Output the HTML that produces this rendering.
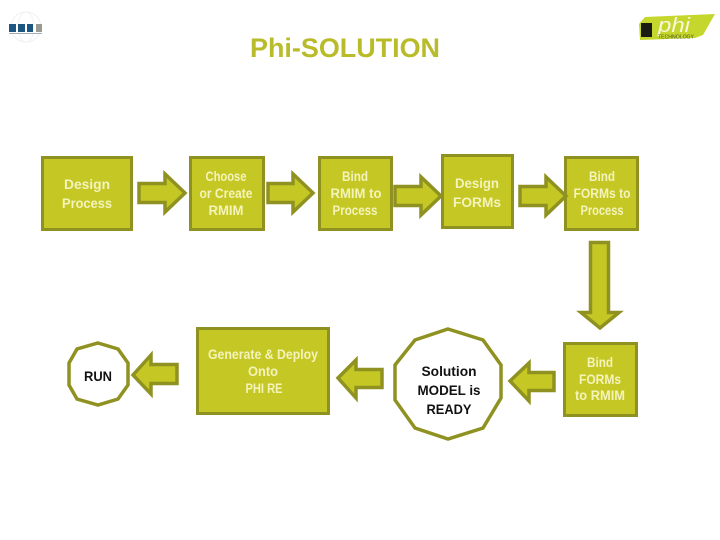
<!DOCTYPE html>
<html><head><meta charset="utf-8"><style>
html,body{margin:0;padding:0;background:#fff}
svg{display:block}
text{font-family:"Liberation Sans",sans-serif;text-anchor:middle;font-weight:bold}
.w{fill:#f4f3bc;font-size:13.5px}
.k{fill:#111;font-size:14px}
.s{fill:#c5c824;stroke:#8f9221;stroke-width:3.5}
.b{fill:#c5c824;stroke:#8f9221;stroke-width:3}
</style></head><body>
<svg width="720" height="540" viewBox="0 0 720 540" xmlns="http://www.w3.org/2000/svg">
<rect width="720" height="540" fill="#fff"/>
<!-- left logo -->
<circle cx="26" cy="27" r="15" fill="none" stroke="#eef0f2" stroke-width="1"/>
<ellipse cx="26" cy="27" rx="8" ry="15" fill="none" stroke="#f1f2f4" stroke-width="1"/>
<rect x="9" y="24" width="7" height="8" fill="#1d5680"/>
<rect x="18" y="24" width="7" height="8" fill="#1d5680"/>
<rect x="27" y="24" width="6" height="8" fill="#1d5680"/>
<rect x="36" y="24" width="6" height="8" fill="#9a9a90"/>
<rect x="9" y="33" width="33" height="1" fill="#a4acb6"/>
<!-- right logo -->
<polygon points="639,24 645,17 715,14 703,35 695,38 640,40" fill="#c5d62c"/>
<rect x="641" y="23" width="11" height="14" fill="#1c1c14"/>
<text x="674" y="32" style="font-size:20px;font-style:italic;font-weight:normal" fill="#f6f8dc" textLength="32" lengthAdjust="spacingAndGlyphs">phi</text>
<text x="676" y="38.5" style="font-size:5px;font-weight:normal" fill="#4c5420" textLength="36" lengthAdjust="spacingAndGlyphs">TECHNOLOGY</text>
<!-- title -->
<text x="345" y="57" style="font-size:27px" fill="#b9bc2a" textLength="190" lengthAdjust="spacingAndGlyphs">Phi-SOLUTION</text>
<!-- boxes -->
<rect class="b" x="42.5" y="157.5" width="89" height="72"/>
<rect class="b" x="190.5" y="157.5" width="73" height="72"/>
<rect class="b" x="319.5" y="157.5" width="72" height="72"/>
<rect class="b" x="442.5" y="155.5" width="70" height="72"/>
<rect class="b" x="565.5" y="157.5" width="72" height="72"/>
<rect class="b" x="564.5" y="343.5" width="72" height="72"/>
<rect class="b" x="197.5" y="328.5" width="131" height="85"/>
<!-- octagons -->
<polygon points="448,329 483,340 501,365 501,398 483,428 448,439 415,428 395,400 395,365 415,340" fill="#fff" stroke="#8f9221" stroke-width="3.5"/>
<polygon points="98,343 118,349 128,363 128,385 118,399 98,405 77,399 69,385 69,363 77,349" fill="#fff" stroke="#8f9221" stroke-width="3.5"/>
<!-- right arrows -->
<polygon class="s" points="139,183.5 165,183.5 165,174 185,193 165,212 165,202.5 139,202.5"/>
<polygon class="s" points="268,183.5 293,183.5 293,174 313,193 293,212 293,202.5 268,202.5"/>
<polygon class="s" points="395,186.5 421,186.5 421,177 441,196 421,215 421,205.5 395,205.5"/>
<polygon class="s" points="520,186.5 546,186.5 546,177 566,196 546,215 546,205.5 520,205.5"/>
<!-- down arrow -->
<polygon class="s" points="590.5,242.5 608.5,242.5 608.5,312.5 619,312.5 600,328 581,312.5 590.5,312.5"/>
<!-- left arrows -->
<polygon class="s" points="177,364.5 151,364.5 151,355 133,375 151,394 151,383.5 177,383.5"/>
<polygon class="s" points="382,369.5 356,369.5 356,360 338,378 356,398 356,387.5 382,387.5"/>
<polygon class="s" points="554,372.5 529,372.5 529,363 510,381 529,401 529,390.5 554,390.5"/>
<!-- labels -->
<text class="w" x="87" y="189" textLength="46" lengthAdjust="spacingAndGlyphs">Design</text>
<text class="w" x="87" y="208" textLength="50" lengthAdjust="spacingAndGlyphs">Process</text>
<text class="w" x="226" y="181" textLength="41" lengthAdjust="spacingAndGlyphs">Choose</text>
<text class="w" x="226" y="198" textLength="53" lengthAdjust="spacingAndGlyphs">or Create</text>
<text class="w" x="226" y="215" textLength="35" lengthAdjust="spacingAndGlyphs">RMIM</text>
<text class="w" x="355" y="181" textLength="26" lengthAdjust="spacingAndGlyphs">Bind</text>
<text class="w" x="356" y="198" textLength="51" lengthAdjust="spacingAndGlyphs">RMIM to</text>
<text class="w" x="355" y="215" textLength="45" lengthAdjust="spacingAndGlyphs">Process</text>
<text class="w" x="477" y="188" textLength="44" lengthAdjust="spacingAndGlyphs">Design</text>
<text class="w" x="477" y="207" textLength="48" lengthAdjust="spacingAndGlyphs">FORMs</text>
<text class="w" x="602" y="181" textLength="26" lengthAdjust="spacingAndGlyphs">Bind</text>
<text class="w" x="602" y="198" textLength="57" lengthAdjust="spacingAndGlyphs">FORMs to</text>
<text class="w" x="602" y="215" textLength="43" lengthAdjust="spacingAndGlyphs">Process</text>
<text class="w" x="600" y="367" textLength="26" lengthAdjust="spacingAndGlyphs">Bind</text>
<text class="w" x="600" y="384" textLength="42" lengthAdjust="spacingAndGlyphs">FORMs</text>
<text class="w" x="600" y="400" textLength="50" lengthAdjust="spacingAndGlyphs">to RMIM</text>
<text class="w" x="263" y="359" textLength="110" lengthAdjust="spacingAndGlyphs">Generate &amp; Deploy</text>
<text class="w" x="263" y="376" textLength="30" lengthAdjust="spacingAndGlyphs">Onto</text>
<text class="w" x="264" y="393" textLength="37" lengthAdjust="spacingAndGlyphs">PHI RE</text>
<text class="k" x="98" y="381" textLength="28" lengthAdjust="spacingAndGlyphs">RUN</text>
<text class="k" x="449" y="376" textLength="55" lengthAdjust="spacingAndGlyphs">Solution</text>
<text class="k" x="449" y="395" textLength="63" lengthAdjust="spacingAndGlyphs">MODEL is</text>
<text class="k" x="449" y="414" textLength="45" lengthAdjust="spacingAndGlyphs">READY</text>
</svg>
</body></html>
